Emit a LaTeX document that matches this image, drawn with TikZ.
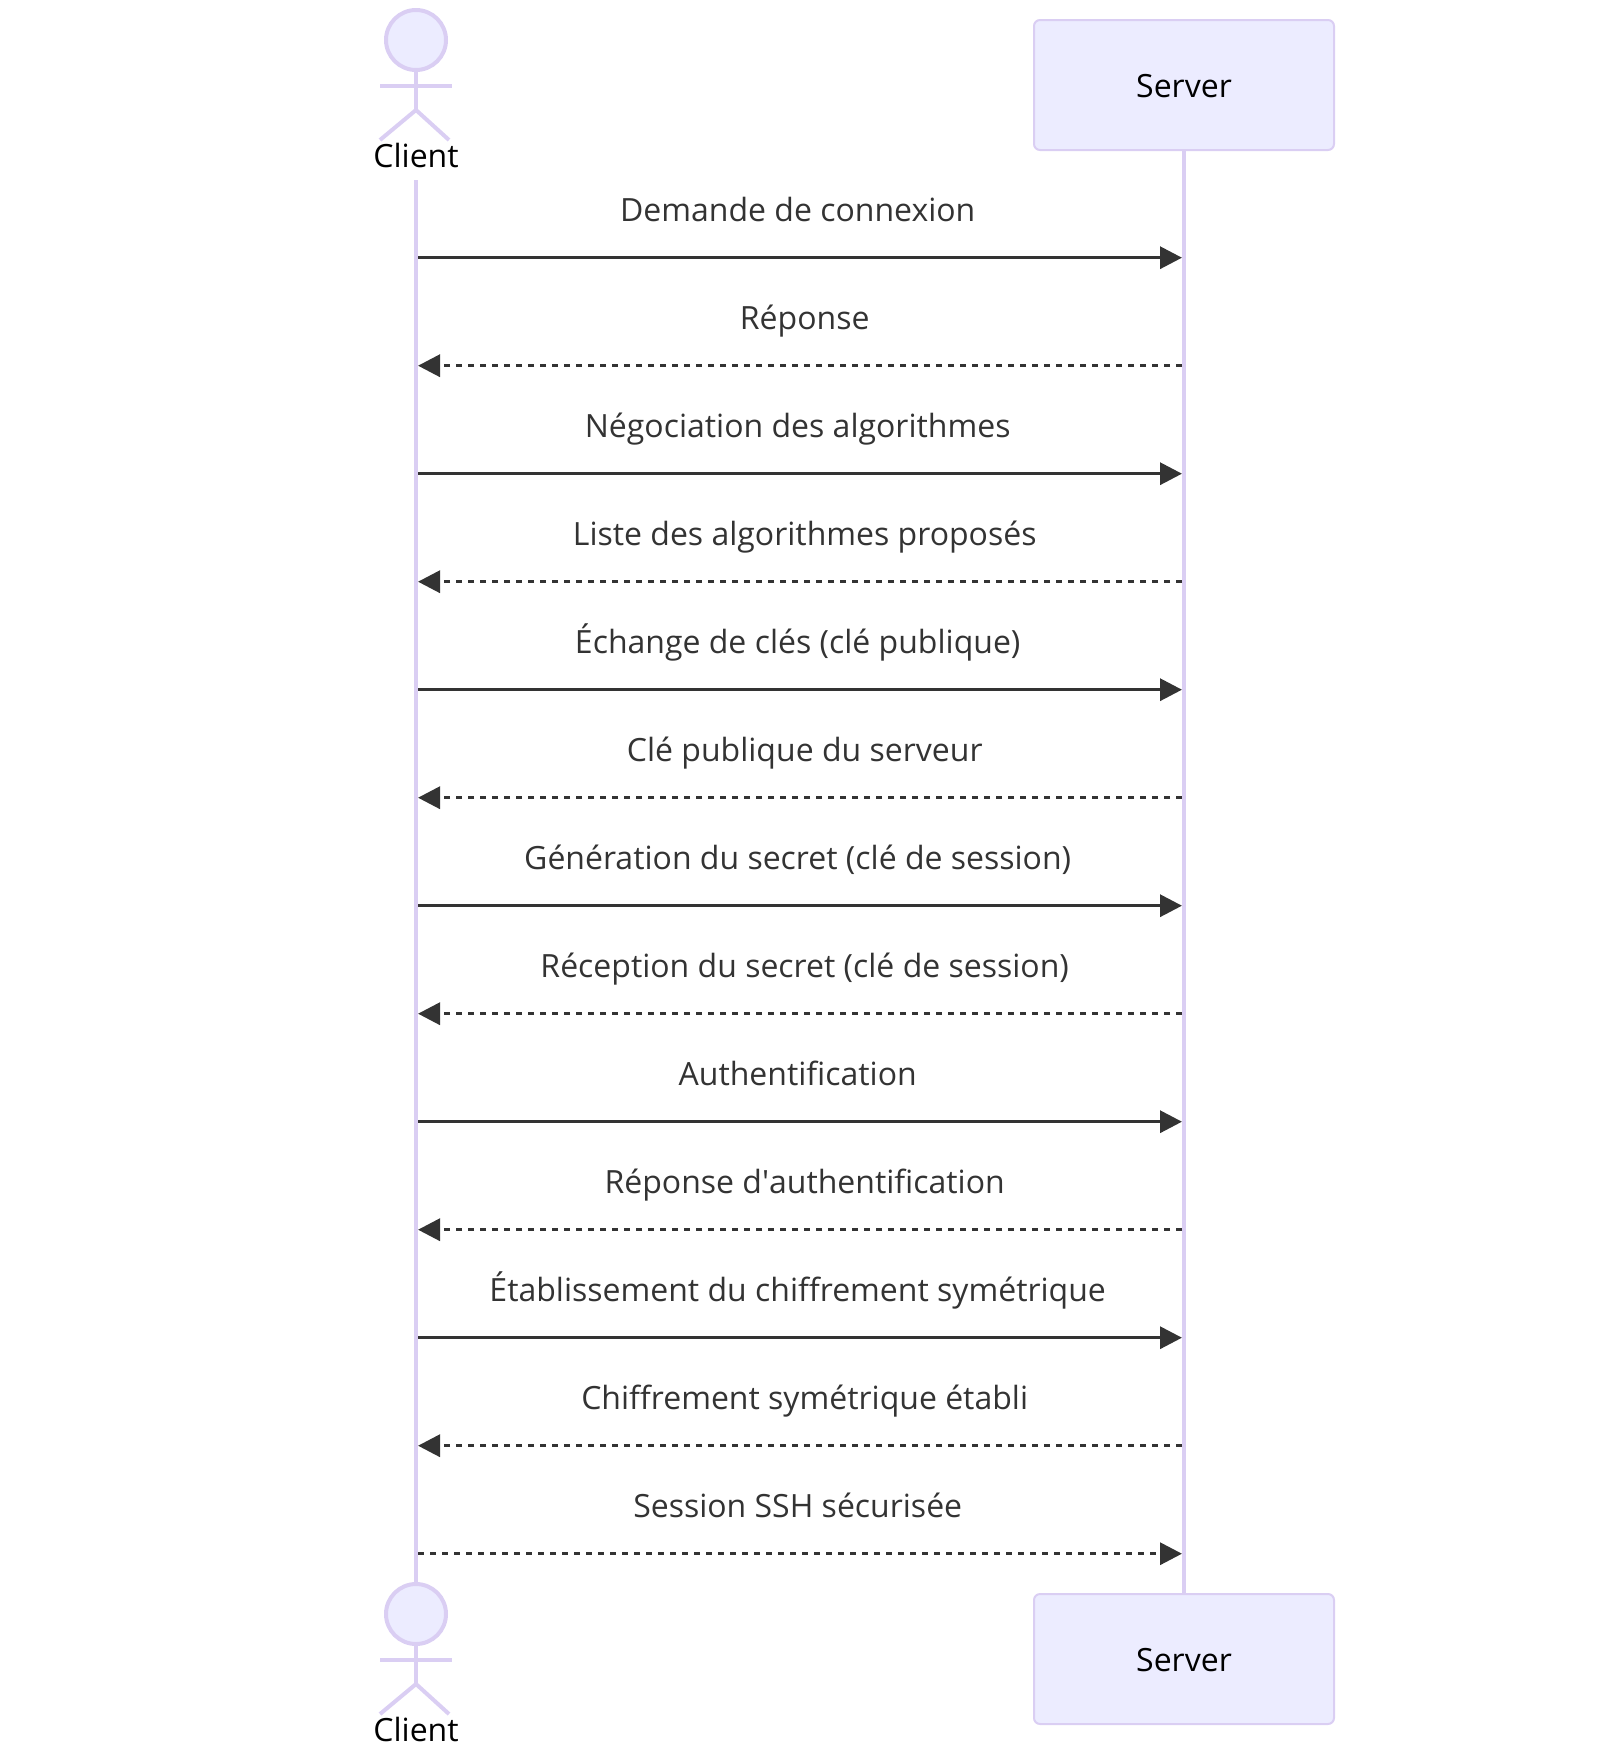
\documentclass[tikz,border=0pt]{standalone}
\usepackage{fontspec}
\setmainfont{Open Sans}
\usepackage{tikz}
\usetikzlibrary{arrows.meta,positioning}

\definecolor{lifeline}{HTML}{DACEF3}
\definecolor{actorfill}{HTML}{ECECFF}
\definecolor{msgcolor}{HTML}{333333}

\tikzset{
  lifeedge/.style={draw=lifeline, line width=4pt},
  actorname/.style={text=black, font=\fontsize{32}{38}\selectfont},
  serverbox/.style={actorname, rectangle, draw=lifeline, fill=actorfill, line width=2pt,
    rounded corners=6pt, minimum width=300pt, minimum height=130pt, inner sep=0pt,
    text height=24.4pt, text depth=0pt},
  actorhead/.style={circle, draw=lifeline, fill=actorfill, line width=4pt, minimum size=60pt, inner sep=0pt},
  msgline/.style={draw=msgcolor, line width=3.4pt, -{Triangle[length=22pt,width=22pt]}},
  msgdash/.style={msgline, dash pattern=on 6pt off 6pt},
  msgtext/.style={text=msgcolor, font=\fontsize{32}{38}\selectfont, anchor=base, midway, yshift=36pt},
  toright/.style={msgtext, xshift=-2.3pt},
  toleft/.style={msgtext, xshift=4.7pt},
  actorfig/.pic={
    \node[actorhead, name=-head] at (0,40) {};
    \draw[lifeedge] (-head.south) -- (0,110);
    \draw[lifeedge] (-36,86) -- (36,86);
    \draw[lifeedge] (0,110) -- (-36,140);
    \draw[lifeedge] (0,110) -- (33,140);
    \node[actorname, anchor=base, name=-label] at (0,167.7) {Client};
  }
}

\begin{document}
\begin{tikzpicture}[x=1pt, y=-1pt]
\useasboundingbox (0,0) rectangle (1600,1746);

% actors
\pic (clienttop) at (416,0) {actorfig};
\pic (clientbot) at (416,1574) {actorfig};
\node[serverbox, name=servertop] at (1184,85) {Server};
\node[serverbox, name=serverbot] at (1184,1659) {Server};

% lifelines
\coordinate (clientstart) at (416,180);
\draw[lifeedge] (clientstart) -- (clientbot-head.north);
\draw[lifeedge] (servertop.south) -- (serverbot.north);

% message ends
\coordinate (c1) at (418,257.7);    \coordinate (s1) at (1182,257.7);
\coordinate (c2) at (418,365.7);    \coordinate (s2) at (1182,365.7);
\coordinate (c3) at (418,473.7);    \coordinate (s3) at (1182,473.7);
\coordinate (c4) at (418,581.7);    \coordinate (s4) at (1182,581.7);
\coordinate (c5) at (418,689.7);    \coordinate (s5) at (1182,689.7);
\coordinate (c6) at (418,797.7);    \coordinate (s6) at (1182,797.7);
\coordinate (c7) at (418,905.7);    \coordinate (s7) at (1182,905.7);
\coordinate (c8) at (418,1013.7);   \coordinate (s8) at (1182,1013.7);
\coordinate (c9) at (418,1121.7);   \coordinate (s9) at (1182,1121.7);
\coordinate (c10) at (418,1229.7);  \coordinate (s10) at (1182,1229.7);
\coordinate (c11) at (418,1337.7);  \coordinate (s11) at (1182,1337.7);
\coordinate (c12) at (418,1445.7);  \coordinate (s12) at (1182,1445.7);
\coordinate (c13) at (418,1553.7);  \coordinate (s13) at (1182,1553.7);

% connections
\draw[msgline] (c1) -- node[toright, name=m1] {Demande de connexion} (s1);
\draw[msgdash] (s2) -- node[toleft, name=m2] {Réponse} (c2);
\draw[msgline] (c3) -- node[toright, name=m3] {Négociation des algorithmes} (s3);
\draw[msgdash] (s4) -- node[toleft, name=m4] {Liste des algorithmes proposés} (c4);
\draw[msgline] (c5) -- node[toright, name=m5] {Échange de clés (clé publique)} (s5);
\draw[msgdash] (s6) -- node[toleft, name=m6] {Clé publique du serveur} (c6);
\draw[msgline] (c7) -- node[toright, name=m7] {Génération du secret (clé de session)} (s7);
\draw[msgdash] (s8) -- node[toleft, name=m8] {Réception du secret (clé de session)} (c8);
\draw[msgline] (c9) -- node[toright, name=m9] {Authentification} (s9);
\draw[msgdash] (s10) -- node[toleft, name=m10] {Réponse d\textquotesingle authentification} (c10);
\draw[msgline] (c11) -- node[toright, name=m11] {Établissement du chiffrement symétrique} (s11);
\draw[msgdash] (s12) -- node[toleft, name=m12] {Chiffrement symétrique établi} (c12);
\draw[msgdash] (c13) -- node[toright, name=m13] {Session SSH sécurisée} (s13);

\end{tikzpicture}
\end{document}
